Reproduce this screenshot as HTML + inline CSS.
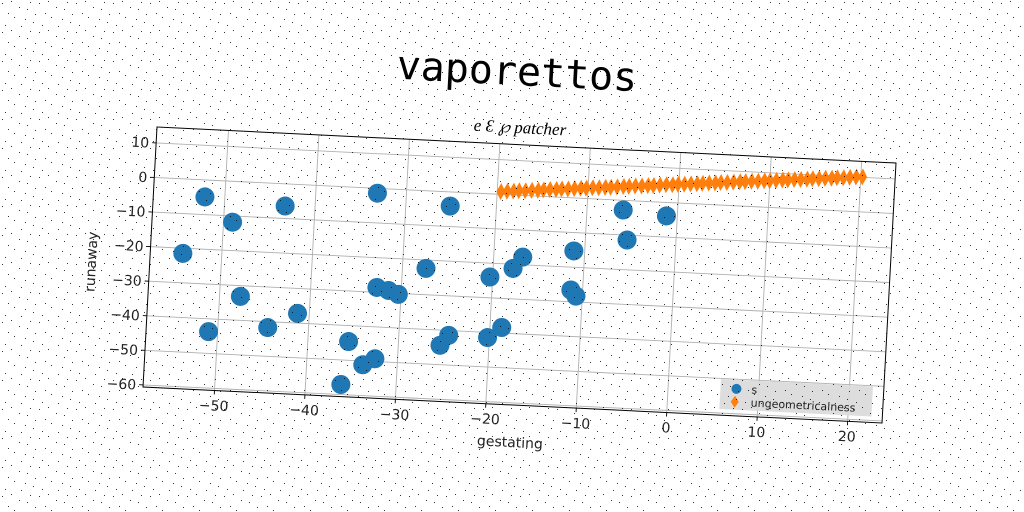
<!DOCTYPE html>
<html><head><meta charset="utf-8">
<style>
html,body{margin:0;padding:0;background:#fff;}
svg{display:block;}
</style></head>
<body>
<svg id="chart" width="1024" height="512" viewBox="0 0 1024 512" xmlns="http://www.w3.org/2000/svg" font-family="'DejaVu Sans','Liberation Sans',sans-serif">
<defs>
<pattern id="noise" width="37" height="29" patternUnits="userSpaceOnUse">
<rect x="2" y="3" width="1" height="1" fill="#000"/>
<rect x="11" y="1" width="1" height="1" fill="#000"/>
<rect x="27" y="9" width="1" height="1" fill="#000"/>
<rect x="14" y="17" width="1" height="1" fill="#000"/>
<rect x="33" y="22" width="1" height="1" fill="#000"/>
<rect x="5" y="25" width="1" height="1" fill="#000"/>
<rect x="21" y="26" width="1" height="1" fill="#000"/>
<rect x="30" y="2" width="1" height="1" fill="#000"/>
<rect x="8" y="13" width="1" height="1" fill="#000"/>
<rect x="19" y="7" width="1" height="1" fill="#000"/>
<rect x="25" y="19" width="1" height="1" fill="#000"/>
<rect x="35" y="14" width="1" height="1" fill="#000"/>
</pattern>
</defs>
<rect width="1024" height="512" fill="#fff"/>
<text x="517" y="85" text-anchor="middle" transform="rotate(3 517 73)" style="font-family:'DejaVu Sans Mono','Liberation Mono',monospace" font-size="40" fill="#000">vaporettos</text>
<text x="520" y="133" text-anchor="middle" transform="rotate(3 520 128)" style="font-family:'Liberation Serif',serif;font-style:italic" font-size="17" fill="#000">e Ɛ ℘ patcher</text>
<g id="plot" transform="matrix(1,0.0487,-0.0538,1,157,127)"></g>
<text x="510" y="447" text-anchor="middle" transform="rotate(3 510 441)" font-size="14" fill="#222">gestating</text>
<text x="96" y="262" text-anchor="middle" transform="rotate(-87 96 262)" font-size="14" fill="#222">runaway</text>
<rect width="1024" height="512" fill="url(#noise)" opacity="0.8" pointer-events="none"/>
</svg>
<script>
const blueX = [-52.2,-54.3,-49.0,-47.7,-51.0,-43.3,-44.5,-41.3,-33.2,-36.1,-35.5,-33.8,-32.5,-32.7,-31.4,-30.3,-27.4,-25.1,-24.5,-25.4,-20.3,-20.2,-18.7,-17.8,-16.8,-11.2,-11.3,-10.7,-6.0,-5.4,-1.2];
const blueY = [-4.9,-21.5,-11.8,-33.1,-43.7,-6.4,-41.7,-37.2,-1.4,-57.1,-44.6,-51.1,-49.2,-28.6,-29.3,-30.3,-22.4,-4.1,-41.4,-44.4,-24.0,-41.5,-38.4,-21.2,-17.8,-15.3,-26.6,-28.3,-2.8,-11.4,-3.9];
const orangeX = [-19.6,-18.9,-18.2,-17.6,-16.9,-16.2,-15.5,-14.9,-14.2,-13.5,-12.9,-12.2,-11.5,-10.8,-10.2,-9.5,-8.8,-8.1,-7.5,-6.8,-6.1,-5.5,-4.8,-4.1,-3.4,-2.8,-2.1,-1.4,-0.7,-0.1,0.6,1.3,2.0,2.6,3.3,4.0,4.6,5.3,6.0,6.7,7.3,8.0,8.7,9.4,10.0,10.7,11.4,12.0,12.7,13.4,14.1,14.7,15.4,16.1,16.8,17.4,18.1,18.8,19.5,20.2];
const orangeY = [0.8,1.0,1.1,1.3,1.4,1.6,1.7,1.9,2.1,2.2,2.4,2.5,2.7,2.9,3.0,3.2,3.3,3.5,3.6,3.8,4.0,4.1,4.3,4.4,4.6,4.7,4.9,5.1,5.2,5.4,5.5,5.7,5.8,6.0,6.2,6.3,6.5,6.6,6.8,7.0,7.1,7.3,7.4,7.6,7.7,7.9,8.1,8.2,8.4,8.5,8.7,8.9,9.0,9.2,9.3,9.5,9.6,9.8,10.0,10.1];
const xTicks = [-50,-40,-30,-20,-10,0,10,20];
const yTicks = [-60,-50,-40,-30,-20,-10,0,10];
const seriesNames = ["s","ungeometricalness"];

const W = 739, H = 260;
const xMin = -57.9, xMax = 23.8, yMin = -60.6, yMax = 14.6;
const sx = v => (v - xMin) / (xMax - xMin) * W;
const sy = v => (yMax - v) / (yMax - yMin) * H;
const NS = "http://www.w3.org/2000/svg";
const g = document.getElementById("plot");
function mk(tag, attrs, parent) {
  const e = document.createElementNS(NS, tag);
  for (const k in attrs) e.setAttribute(k, attrs[k]);
  (parent || g).appendChild(e);
  return e;
}
xTicks.forEach(t => {
  const l = mk("line", {x1: sx(t), x2: sx(t), y1: 0, y2: H, stroke: "#b0b0b0", "stroke-width": 0.9});
  
  
  const tk = mk("line", {x1: sx(t), x2: sx(t), y1: H, y2: H + 4, stroke: "#000", "stroke-width": 0.9});
  
  
  const tx = mk("text", {x: sx(t), y: H + 20, "text-anchor": "middle", "font-size": 14, fill: "#222"});
  tx.textContent = (t < 0 ? "\u2212" + Math.abs(t) : String(t));
  
  
});
yTicks.forEach(t => {
  const l = mk("line", {x1: 0, x2: W, y1: sy(t), y2: sy(t), stroke: "#b0b0b0", "stroke-width": 0.9});
  
  
  const tk = mk("line", {x1: -4, x2: 0, y1: sy(t), y2: sy(t), stroke: "#000", "stroke-width": 0.9});
  
  
  const tx = mk("text", {x: -7, y: sy(t) + 5, "text-anchor": "end", "font-size": 14, fill: "#222"});
  tx.textContent = (t < 0 ? "\u2212" + Math.abs(t) : String(t));
  
  
});
blueX.forEach((x, i) => {
  const c = mk("circle", {cx: sx(x), cy: sy(blueY[i]), r: 9.5, fill: "#1f77b4"});
  
  
});
orangeX.forEach((x, i) => {
  const cx = sx(x), cy = sy(orangeY[i]);
  const p = mk("polygon", {points: `${cx},${cy-8.5} ${cx+4.5},${cy} ${cx},${cy+8.5} ${cx-4.5},${cy}`, fill: "#ff7f0e"});
  
  
});
const fr = mk("rect", {x: 0, y: 0, width: W, height: H, fill: "none", stroke: "#000", "stroke-width": 1});


const lg = mk("g", {});


const lb = mk("rect", {x: 576, y: 224, width: 152, height: 30, fill: "#d9d9d9", opacity: 0.9}, lg);


const e1 = mk("circle", {cx: 592, cy: 233, r: 5, fill: "#1f77b4"}, lg);


const t1 = mk("text", {x: 607, y: 237, "font-size": 11, fill: "#222"}, lg);
t1.textContent = seriesNames[0];


const e2 = mk("polygon", {points: "591,240 595,246 591,252 587,246", fill: "#ff7f0e"}, lg);


const t2 = mk("text", {x: 607, y: 250, "font-size": 11, fill: "#222"}, lg);
t2.textContent = seriesNames[1];


</script>
</body></html>
